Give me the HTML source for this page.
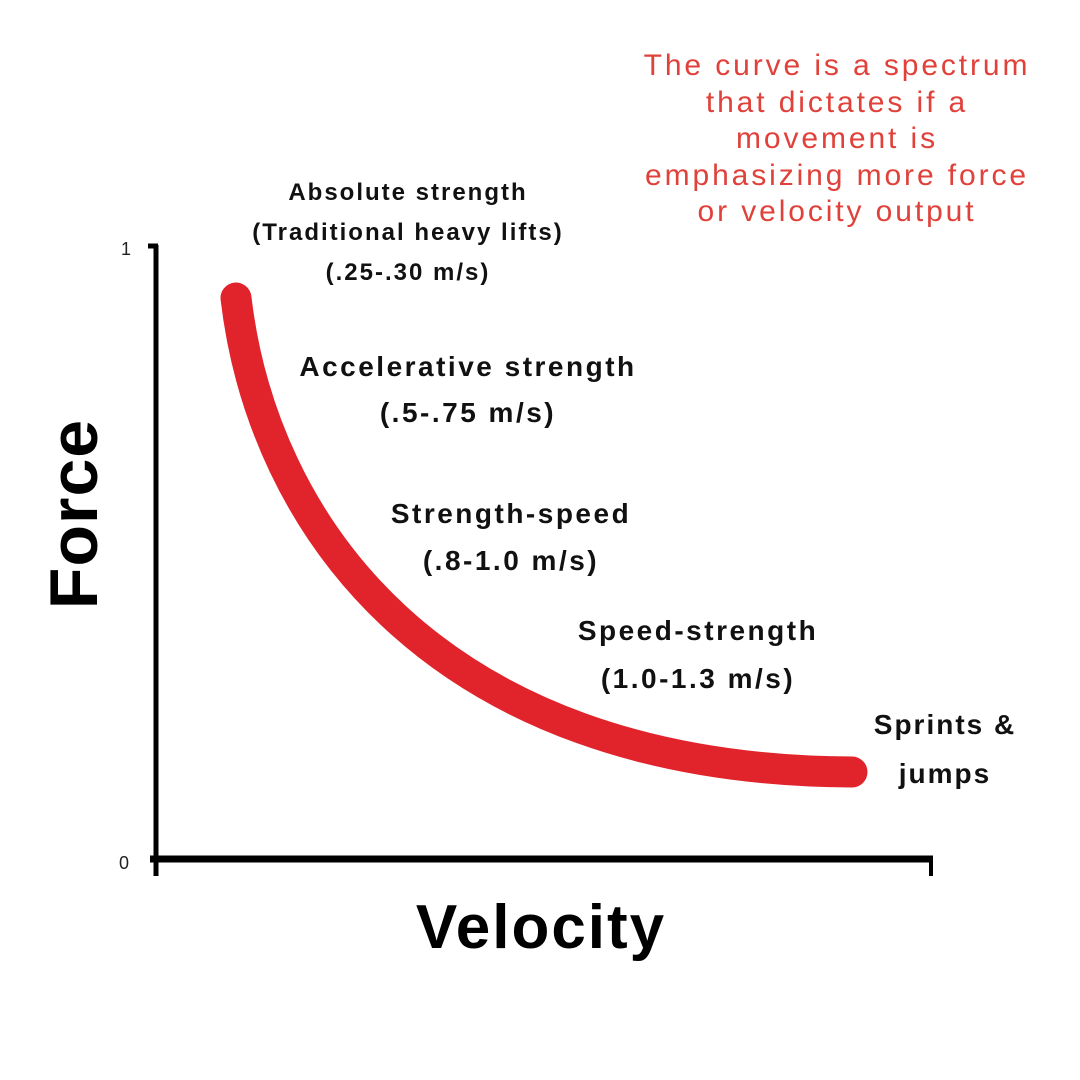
<!DOCTYPE html>
<html><head><style>
body{margin:0;width:1080px;height:1080px;background:#fff;overflow:hidden;position:relative;font-family:"Liberation Sans",sans-serif}
.t{position:absolute;text-align:center;font-weight:bold;color:#111;white-space:nowrap}
</style></head><body>
<svg width="1080" height="1080" style="position:absolute;left:0;top:0">
<path d="M236,298 C 262,520 430,770 852,772" fill="none" stroke="#e1232b" stroke-width="31" stroke-linecap="round"/>
<line x1="156" y1="245" x2="156" y2="876" stroke="#000" stroke-width="5"/>
<line x1="148" y1="246" x2="158" y2="246" stroke="#000" stroke-width="5"/>
<line x1="150" y1="859" x2="933" y2="859" stroke="#000" stroke-width="7"/>
<line x1="931" y1="859" x2="931" y2="876" stroke="#000" stroke-width="4"/>
<text x="121" y="255" font-size="18" font-family="Liberation Sans" fill="#222">1</text>
<text x="119" y="869" font-size="18" font-family="Liberation Sans" fill="#222">0</text>
<text transform="translate(97,514) rotate(-90)" text-anchor="middle" font-size="68" font-weight="bold" font-family="Liberation Sans" fill="#000" letter-spacing="1">Force</text>
<text x="541" y="948" text-anchor="middle" font-size="62" font-weight="bold" font-family="Liberation Sans" fill="#000" letter-spacing="2">Velocity</text>
</svg>
<div class="t" style="left:837px;top:48px;transform:translateX(-50%);color:#e0413a;font-weight:normal;font-size:30px;line-height:36.5px;letter-spacing:2.9px">The curve is a spectrum<br>that dictates if a<br>movement is<br>emphasizing more force<br>or velocity output</div>
<div class="t" style="left:408px;top:173px;transform:translateX(-50%);font-size:24px;line-height:40px;letter-spacing:2px">Absolute strength<br>(Traditional heavy lifts)<br>(.25-.30 m/s)</div>
<div class="t" style="left:468px;top:344px;transform:translateX(-50%);font-size:28px;line-height:46px;letter-spacing:2.5px">Accelerative strength<br>(.5-.75 m/s)</div>
<div class="t" style="left:511px;top:490px;transform:translateX(-50%);font-size:28px;line-height:47px;letter-spacing:2.5px">Strength-speed<br>(.8-1.0 m/s)</div>
<div class="t" style="left:698px;top:607px;transform:translateX(-50%);font-size:28px;line-height:48px;letter-spacing:2.5px">Speed-strength<br>(1.0-1.3 m/s)</div>
<div class="t" style="left:945px;top:700px;transform:translateX(-50%);font-size:28px;line-height:49px;letter-spacing:2px">Sprints &amp;<br>jumps</div>
</body></html>
